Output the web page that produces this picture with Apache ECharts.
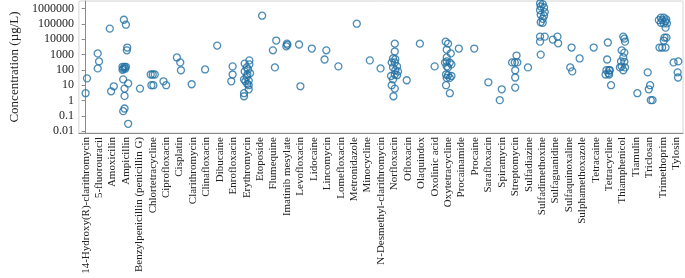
<!DOCTYPE html>
<html>
<head>
<meta charset="utf-8">
<script src="https://cdn.jsdelivr.net/npm/echarts@6/dist/echarts.min.js"></script>
<style>
  html, body { margin: 0; padding: 0; background: #fff; }
  #chart { width: 685px; height: 278px; }
</style>
</head>
<body>
<div id="chart"></div>
<script>
var categories = [
  '14-Hydroxy(R)-clarithromycin', '5-fluorouracil', 'Amoxicilin', 'Ampicillin',
  'Benzylpenicillin (penicillin G)', 'Chlortetracycline', 'Ciprofloxacin', 'Cisplatin',
  'Clarithromycin', 'Clinafloxacin', 'Dibucaine', 'Enrofloxacin', 'Erythromycin',
  'Etoposide', 'Flumequine', 'Imatinib mesylate', 'Levofloxacin', 'Lidocaine',
  'Lincomycin', 'Lomefloxacin', 'Metronidazole', 'Minocycline',
  'N-Desmethyl-clarithromycin', 'Norfloxacin', 'Ofloxacin', 'Olaquindox',
  'Oxolinic acid', 'Oxytetracycline', 'Procainamide', 'Procaine', 'Sarafloxacin',
  'Spiramycin', 'Streptomycin', 'Sulfadiazine', 'Sulfadimethoxine', 'Sulfaguanidine',
  'Sulfaquinoxaline', 'Sulphamethoxazole', 'Tetracaine', 'Tetracycline',
  'Thiamphenicol', 'Tiamulin', 'Triclosan', 'Trimethoprim', 'Tylosin'
];

// concentrations (µg/L) per compound
var concentrations = [
  [3, 28],
  [1200, 360, 125],
  [50000, 4, 8.5],
  [190000, 90000, 2900, 1900, 160, 160, 160, 120, 120, 100, 24, 13, 6, 2, 0.3, 0.2, 0.03],
  [6],
  [50, 50, 50, 10, 10],
  [18, 10],
  [650, 310, 95],
  [11.5],
  [107],
  [3900],
  [170, 50, 18],
  [420, 260, 230, 145, 107, 80, 60, 50, 35, 24, 20, 18, 12, 10, 5.4, 3, 1.9],
  [350000],
  [8300, 1900, 145],
  [5200, 4300, 3500],
  [4600, 8.5],
  [2500],
  [1900, 480],
  [170],
  [105000],
  [420],
  [125],
  [5200, 1600, 560, 500, 310, 310, 170, 145, 95, 80, 50, 45, 40, 24, 10, 6, 1.9],
  [21],
  [5200],
  [170],
  [7000, 5200, 2100, 1200, 650, 360, 300, 300, 230, 170, 145, 50, 45, 40, 30, 30, 10, 3],
  [2500],
  [2500],
  [15.5],
  [5.4, 1.05],
  [870, 310, 310, 310, 95, 32, 7],
  [145],
  [2200000, 2000000, 1400000, 1200000, 800000, 600000, 400000, 350000, 220000, 130000, 120000, 15000, 15000, 7000, 1000],
  [9600, 15000, 5500],
  [2900, 145, 80],
  [560],
  [2900],
  [6200, 480, 95, 95, 95, 60, 50, 50, 10],
  [15000, 11000, 7000, 1900, 1350, 650, 360, 340, 170, 145, 145, 95],
  [3],
  [69, 10, 5.4, 1.05, 1.05],
  [260000, 260000, 200000, 180000, 180000, 150000, 120000, 110000, 110000, 58000, 13000, 13000, 8300, 2900, 2900, 2900],
  [310, 360, 69, 32]
];

// horizontal jitter of each point, in category widths
var jitter = [
  [0, 0.1],
  [-0.1, 0, -0.1],
  [-0.2, -0.1, 0.1],
  [-0.15, 0, 0.1, 0.07, -0.25, -0.1, 0, -0.2, -0.05, -0.25, -0.2, 0.17, -0.1, -0.1, -0.1, -0.2, 0.17],
  [0.05],
  [-0.15, 0, 0.15, -0.1, 0.05],
  [-0.2, 0],
  [-0.2, 0.05, 0.1],
  [-0.1],
  [-0.1],
  [-0.2],
  [-0.05, -0.05, -0.15],
  [0.2, -0.15, 0.2, 0, 0.1, -0.15, 0.25, 0.05, 0, -0.2, 0.15, -0.1, 0.05, 0.15, 0.15, -0.2, -0.2],
  [0.15],
  [0.2, -0.05, 0.1],
  [0, 0.03, -0.05],
  [-0.1, 0],
  [-0.15],
  [-0.07, -0.2],
  [-0.17],
  [0.2],
  [0.17],
  [-0.03],
  [0.03, 0.03, -0.1, 0.07, -0.2, 0.03, 0.2, -0.1, 0.07, 0.27, 0.03, 0.2, -0.25, -0.1, -0.2, 0.03, -0.07],
  [-0.08],
  [-0.1],
  [0],
  [-0.18, 0, -0.1, 0.2, -0.1, -0.1, -0.23, 0.13, 0.25, -0.1, 0, -0.15, 0, 0.25, -0.1, 0.13, -0.15, 0.13],
  [-0.2],
  [-0.05],
  [0],
  [0, -0.15],
  [0.1, -0.23, -0.03, 0.16, 0, 0, 0],
  [-0.05],
  [-0.15, 0.05, -0.1, 0.15, -0.15, 0.2, -0.1, 0.15, 0.05, -0.1, 0.05, -0.15, 0.2, -0.15, -0.1],
  [-0.2, 0.15, 0.2],
  [0.2, 0.1, 0.25],
  [-0.2],
  [-0.15],
  [-0.1, -0.15, -0.2, 0, 0.05, -0.05, -0.27, 0, 0.14],
  [0.05, 0.13, 0.18, -0.07, 0.13, 0.05, -0.12, 0.13, -0.07, -0.2, 0.18, 0.05],
  [0.1],
  [-0.13, 0.05, -0.05, 0.1, 0.23],
  [-0.15, 0.07, 0.25, -0.3, -0.05, 0.2, -0.15, 0.07, 0.3, 0.2, 0.12, 0.27, 0.07, -0.25, -0.05, 0.2],
  [-0.2, 0.15, 0.1, 0.13]
];

var yTicks = [0.01, 0.1, 1, 10, 100, 1000, 10000, 100000, 1000000];
var yTickLabels = ['0.01', '0.1', '1', '10', '100', '1000', '10000', '100000', '1000000'];

var points = [];
concentrations.forEach(function (vals, i) {
  vals.forEach(function (v, k) {
    points.push([i + ((jitter[i] && jitter[i][k]) || 0), v]);
  });
});

var serif = '"Liberation Serif", "Times New Roman", serif';
var chart = echarts.init(document.getElementById('chart'));
chart.setOption({
  animation: false,
  grid: {
    left: 62, right: 2, top: 1, bottom: 145,
    show: true, borderColor: '#d4d4d4', borderWidth: 1
  },
  xAxis: [
    {
      type: 'category',
      data: categories,
      boundaryGap: true,
      axisLine: { lineStyle: { color: '#8a8a8a' } },
      axisTick: { alignWithLabel: true, length: 3, lineStyle: { color: '#8a8a8a' } },
      axisLabel: {
        interval: 0, rotate: 90, margin: 4,
        fontFamily: serif, fontSize: 11, color: '#222'
      },
      splitLine: { show: false }
    },
    {
      type: 'value', min: -0.5, max: 44.5, show: false
    }
  ],
  yAxis: {
    type: 'log',
    logBase: 10,
    min: 0.0075,
    max: 3200000,
    name: 'Concentration (µg/L)',
    nameLocation: 'middle',
    nameRotate: 90,
    nameGap: 52,
    nameTextStyle: { fontFamily: serif, fontSize: 13, color: '#222' },
    axisLine: { show: true, lineStyle: { color: '#8a8a8a' } },
    axisTick: { show: true, length: 4, customValues: yTicks, lineStyle: { color: '#8a8a8a' } },
    axisLabel: {
      customValues: yTicks,
      margin: 5,
      fontFamily: serif, fontSize: 12, color: '#222',
      formatter: function (v) {
        var idx = yTicks.findIndex(function (t) { return Math.abs(Math.log10(t) - Math.log10(v)) < 1e-6; });
        return idx >= 0 ? yTickLabels[idx] : '';
      }
    },
    splitLine: { show: false }
  },
  series: [{
    type: 'scatter',
    xAxisIndex: 1,
    data: points,
    symbol: 'circle',
    symbolSize: 7,
    itemStyle: { color: 'rgba(0,0,0,0)', borderColor: '#1f6fa3', borderWidth: 1.3 }
  }]
});
</script>
</body>
</html>
